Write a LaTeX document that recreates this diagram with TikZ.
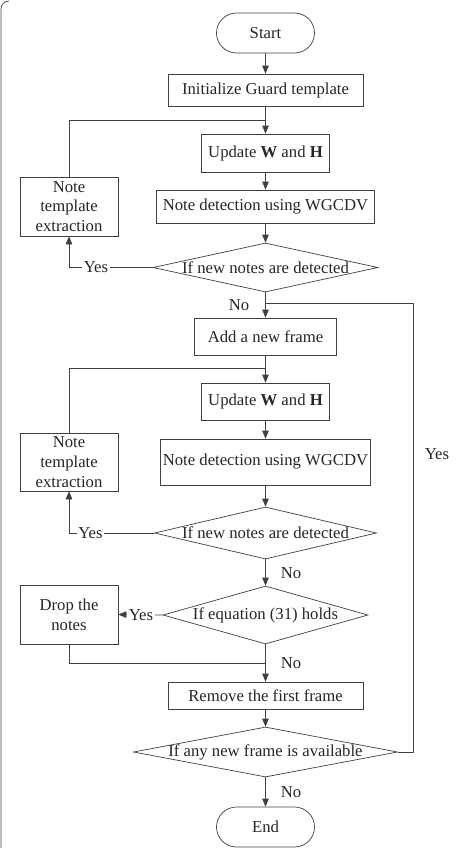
\documentclass[tikz,border=0pt]{standalone}
\usepackage{fontspec}
\setmainfont{Liberation Serif}
\usetikzlibrary{arrows.meta}
\usetikzlibrary{shapes.misc}
\usetikzlibrary{shapes.geometric}
\usetikzlibrary{calc}

\definecolor{linegray}{gray}{0.25}

\tikzset{
    flowbox/.style={draw=linegray,thin,rectangle,inner sep=0pt,align=center},
    termbox/.style={draw=linegray,thin,rounded rectangle,inner sep=0pt,
        minimum width=1.96cm,minimum height=0.8cm},
    decbox/.style={draw=linegray,thin,diamond,inner sep=0pt,shape aspect=4},
    flowarrow/.style={draw=linegray,thin,-{Triangle[length=1.6mm,width=1.3mm]}},
    flowline/.style={draw=linegray,thin},
    lbl/.style={fill=white,inner sep=1pt}
}

\begin{document}
\begin{tikzpicture}[every node/.style={font=\fontsize{9.5}{11.2}\selectfont,text=black!85}]
    \useasboundingbox (0,0) rectangle (9.32,-16.96);
    \draw[linegray,thin] (0.02,-16.96) -- (0.02,-0.18) arc[start angle=180,end angle=90,radius=0.16];

    % main column
    \node[termbox] (start) at (5.31,-0.66) {Start};
    \node[flowbox,minimum width=3.90cm,minimum height=0.64cm] (init) at (5.31,-1.80) {Initialize Guard template};
    \node[flowbox,minimum width=2.56cm,minimum height=0.76cm] (upd1) at (5.31,-3.06) {Update \textbf{W} and \textbf{H}};
    \node[flowbox,minimum width=4.36cm,minimum height=0.66cm] (det1) at (5.31,-4.13) {Note detection using WGCDV};
    \node[decbox,minimum width=4.50cm,minimum height=0.98cm,label={center:If new notes are detected}] (dia1) at (5.31,-5.35) {};
    \node[flowbox,minimum width=2.84cm,minimum height=0.74cm] (add) at (5.31,-6.73) {Add a new frame};
    \node[flowbox,minimum width=2.56cm,minimum height=0.74cm] (upd2) at (5.31,-8.03) {Update \textbf{W} and \textbf{H}};
    \node[flowbox,minimum width=4.20cm,minimum height=0.92cm] (det2) at (5.31,-9.24) {Note detection using WGCDV};
    \node[decbox,minimum width=4.44cm,minimum height=1.04cm,label={center:If new notes are detected}] (dia2) at (5.31,-10.66) {};
    \node[decbox,minimum width=4.10cm,minimum height=1.16cm,label={center:If equation (31) holds}] (dia3) at (5.31,-12.30) {};
    \node[flowbox,minimum width=3.90cm,minimum height=0.54cm] (rem) at (5.31,-13.91) {Remove the first frame};
    \node[decbox,minimum width=5.28cm,minimum height=1.00cm,label={center:If any new frame is available}] (dia4) at (5.31,-15.04) {};
    \node[termbox] (end) at (5.31,-16.54) {End};

    % left column
    \node[flowbox,minimum width=1.96cm,minimum height=1.18cm] (ext1) at (1.38,-4.13) {Note\\template\\extraction};
    \node[flowbox,minimum width=1.96cm,minimum height=1.16cm] (ext2) at (1.38,-9.24) {Note\\template\\extraction};
    \node[flowbox,minimum width=1.96cm,minimum height=1.18cm] (drop) at (1.38,-12.29) {Drop the\\notes};

    % junctions
    \coordinate (j1) at (5.31,-2.40);
    \coordinate (j2) at (5.31,-6.06);
    \coordinate (j3) at (5.31,-7.36);
    \coordinate (j4) at (5.31,-13.26);

    \draw[flowarrow] (start) -- (init);
    \draw[flowarrow] (init) -- (upd1);
    \draw[flowline] (ext1.north) |- (j1);
    \draw[flowarrow] (upd1) -- (det1);
    \draw[flowarrow] (det1) -- (dia1);
    \draw[flowarrow] (dia1.west) -| (ext1.south);
    \node[lbl] (yes1) at (1.92,-5.35) {Yes};
    \draw[flowarrow] (dia1.south) -- (add.north);
    \node (no1) at (4.78,-6.10) {No};

    \draw[flowarrow] (add) -- (upd2);
    \draw[flowline] (ext2.north) |- (j3);
    \draw[flowarrow] (upd2) -- (det2);
    \draw[flowarrow] (det2) -- (dia2);
    \draw[flowarrow] (dia2.west) -| (ext2.south);
    \node[lbl] (yes2) at (1.81,-10.66) {Yes};
    \draw[flowarrow] (dia2.south) -- (dia3.north);
    \node (no2) at (5.82,-11.46) {No};

    \draw[flowarrow] (dia3.west) -- (drop.east);
    \node[lbl] (yes3) at (2.82,-12.30) {Yes};
    \draw[flowline] (drop.south) |- (j4);
    \draw[flowarrow] (dia3.south) -- (rem.north);
    \node (no3) at (5.82,-13.26) {No};

    \draw[flowarrow] (rem) -- (dia4);
    \draw[flowline] (dia4.east) -| (8.26,-6.06) -- (j2);
    \node (yes4) at (8.74,-9.08) {Yes};
    \draw[flowarrow] (dia4.south) -- (end.north);
    \node (no4) at (5.82,-15.84) {No};
\end{tikzpicture}
\end{document}
